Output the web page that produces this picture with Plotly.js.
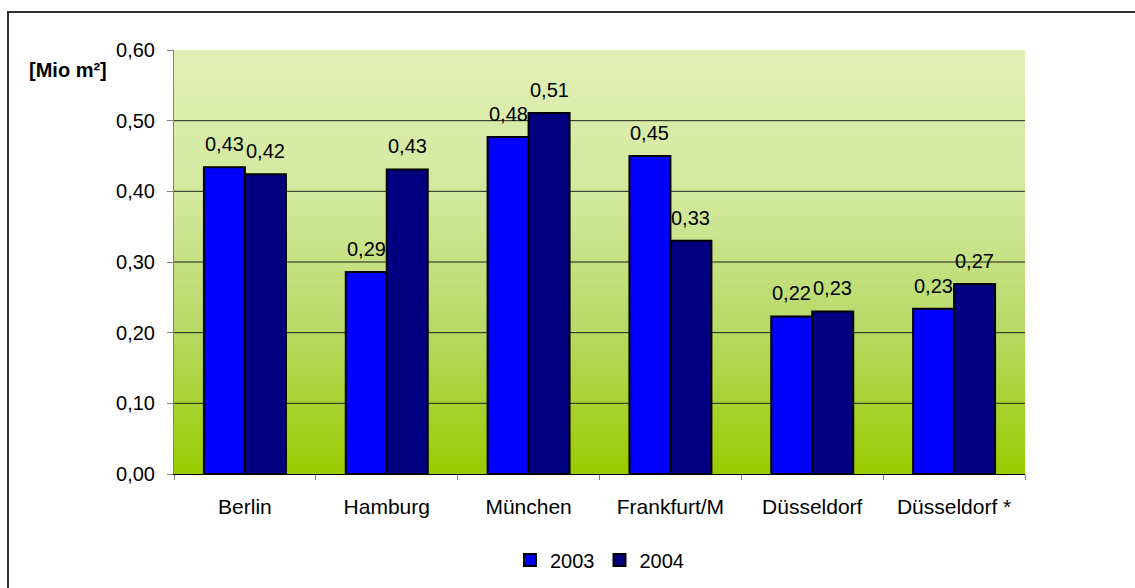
<!DOCTYPE html>
<html>
<head>
<meta charset="utf-8">
<script src="https://cdn.plot.ly/plotly-3.0.1.min.js"></script>
<style>
  html, body { margin: 0; padding: 0; background: #fff; overflow: hidden; }
  #wrap { position: relative; width: 1135px; height: 588px; }
  #chart { width: 1135px; height: 588px; }
  #frame { position: absolute; left: 6.5px; top: 10.5px; width: 1200px; height: 700px;
           border-left: 2px solid #333; border-top: 2px solid #333; pointer-events: none; }
</style>
</head>
<body>
<div id="wrap">
<div id="chart"></div>
<div id="frame"></div>
</div>
<script>
// ---- data ----
const categories = ["Berlin", "Hamburg", "München", "Frankfurt/M", "Düsseldorf", "Düsseldorf *"];
const values2003 = [0.434, 0.286, 0.477, 0.450, 0.223, 0.234];
const values2004 = [0.424, 0.431, 0.511, 0.330, 0.230, 0.269];
const seriesNames = ["2003", "2004"];
const yTickVals = [0, 0.1, 0.2, 0.3, 0.4, 0.5, 0.6];
const gridVals = [0.1, 0.2, 0.3, 0.4, 0.5];
const unitLabel = "[Mio m²]";

const FONT = "Liberation Sans, Arial, sans-serif";
const fmt = v => v.toFixed(2).replace(".", ",");

const traces = [
  {
    type: "bar", name: seriesNames[0], x: categories, y: values2003,
    marker: { color: "#0000ff", line: { color: "#000000", width: 2 } },
    hoverinfo: "skip"
  },
  {
    type: "bar", name: seriesNames[1], x: categories, y: values2004,
    marker: { color: "#000080", line: { color: "#000000", width: 2 } },
    hoverinfo: "skip"
  }
];

// value labels above the bars
const annotations = [];
const halfBar = 20.5;
categories.forEach((c, i) => {
  annotations.push({ x: c, y: values2003[i], xref: "x", yref: "y", text: fmt(values2003[i]),
    showarrow: false, xshift: -halfBar, yshift: 10, yanchor: "bottom",
    font: { family: FONT, size: 20, color: "#000" } });
  annotations.push({ x: c, y: values2004[i], xref: "x", yref: "y", text: fmt(values2004[i]),
    showarrow: false, xshift: halfBar, yshift: 10, yanchor: "bottom",
    font: { family: FONT, size: 20, color: "#000" } });
});
annotations.push({ x: -0.1727, y: 0.953, xref: "paper", yref: "paper", xanchor: "left", yanchor: "middle",
  text: "<b>" + unitLabel + "</b>", showarrow: false, font: { family: FONT, size: 20, color: "#000" } });

const shapes = gridVals.map(v => ({
  type: "line", xref: "paper", yref: "y", x0: 0, x1: 1, y0: v, y1: v,
  line: { color: "rgba(0,0,0,0.85)", width: 1 }, layer: "below"
}));

const gradSvg = '<svg xmlns="http://www.w3.org/2000/svg" width="100" height="100" preserveAspectRatio="none">' +
  '<defs><linearGradient id="g" x1="0" y1="0" x2="0" y2="1">' +
  '<stop offset="0" stop-color="#e2efb6"/>' +
  '<stop offset="0.35" stop-color="#d2e89c"/>' +
  '<stop offset="0.65" stop-color="#b8da68"/>' +
  '<stop offset="1" stop-color="#99cc00"/>' +
  '</linearGradient></defs><rect width="100" height="100" fill="url(#g)"/></svg>';

const layout = {
  width: 1135, height: 588,
  margin: { l: 174, r: 110, t: 50, b: 114 },
  paper_bgcolor: "rgba(0,0,0,0)",
  plot_bgcolor: "rgba(0,0,0,0)",
  separators: ",.",
  font: { family: FONT, size: 20, color: "#000" },
  barmode: "group",
  bargap: 0.422,
  bargroupgap: 0,
  showlegend: true,
  legend: {
    orientation: "h", xref: "paper", x: 0.5, xanchor: "center",
    yref: "container", y: 0.0476, yanchor: "middle",
    font: { family: FONT, size: 20, color: "#000" }, itemwidth: 30, tracegroupgap: 0,
    bgcolor: "rgba(0,0,0,0)"
  },
  xaxis: {
    type: "category", tickson: "boundaries", ticks: "outside", ticklen: 5, tickcolor: "#808080",
    showline: true, linecolor: "#000000", linewidth: 1, showgrid: false,
    tickfont: { family: FONT, size: 21, color: "#000" }, ticklabelstandoff: 14,
    automargin: false, fixedrange: true
  },
  yaxis: {
    range: [0, 0.6], tickvals: yTickVals, tickformat: ".2f",
    ticks: "outside", ticklen: 6, tickcolor: "#808080",
    showline: true, linecolor: "#808080", linewidth: 1, showgrid: false, zeroline: false,
    tickfont: { family: FONT, size: 20, color: "#000" }, ticklabelstandoff: 8,
    automargin: false, fixedrange: true
  },
  images: [{
    source: "data:image/svg+xml;charset=utf-8," + encodeURIComponent(gradSvg),
    xref: "paper", yref: "paper", x: 0, y: 1, sizex: 1, sizey: 1,
    sizing: "stretch", xanchor: "left", yanchor: "top", layer: "below"
  }],
  shapes: shapes,
  annotations: annotations
};

Plotly.newPlot("chart", traces, layout, { displayModeBar: false, staticPlot: true });
</script>
</body>
</html>
